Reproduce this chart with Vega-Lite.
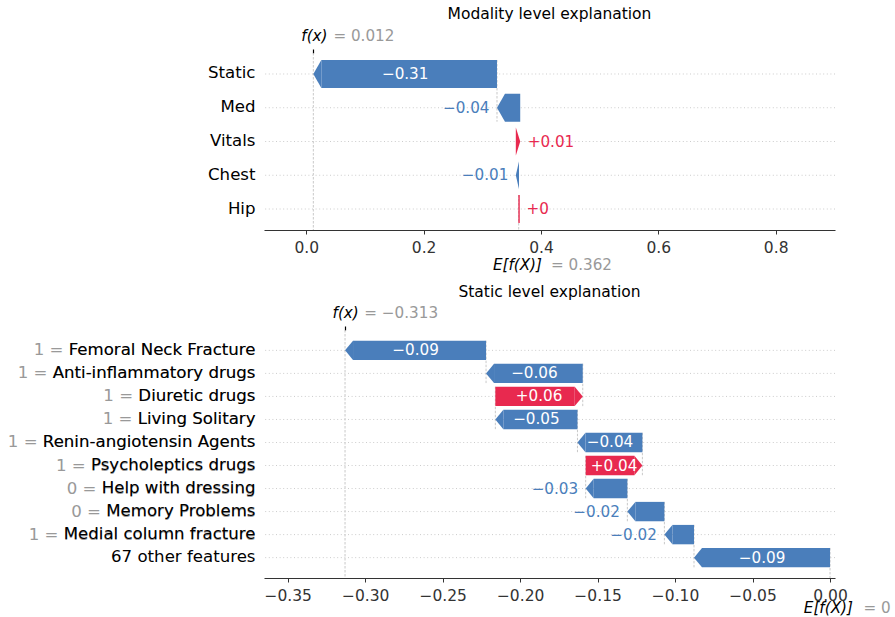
{
  "$schema": "https://vega.github.io/schema/vega-lite/v6.json",
  "background": "white",
  "padding": {"left": 7, "top": 7, "right": 5, "bottom": 5},
  "config": {
    "view": {"stroke": null},
    "font": "DejaVu Sans",
    "axis": {"labelFont": "DejaVu Sans"},
    "text": {"font": "DejaVu Sans"},
    "title": {"font": "DejaVu Sans"}
  },
  "datasets": {
    "modality": [
      {"name": "Static", "start": 0.325, "end": 0.012, "label": "−0.31"},
      {"name": "Med", "start": 0.3646, "end": 0.325, "label": "−0.04"},
      {"name": "Vitals", "start": 0.3571, "end": 0.3646, "label": "+0.01"},
      {"name": "Chest", "start": 0.3626, "end": 0.3571, "label": "−0.01"},
      {"name": "Hip", "start": 0.362, "end": 0.3626, "label": "+0"}
    ],
    "modality_ref": [{"name": "Hip", "fx": 0.012, "base": 0.362}],
    "static": [
      {"name": "Femoral Neck Fracture", "full": "1 = Femoral Neck Fracture", "start": -0.222, "end": -0.313, "label": "−0.09"},
      {"name": "Anti-inflammatory drugs", "full": "1 = Anti-inflammatory drugs", "start": -0.1596, "end": -0.222, "label": "−0.06"},
      {"name": "Diuretic drugs", "full": "1 = Diuretic drugs", "start": -0.216, "end": -0.1596, "label": "+0.06"},
      {"name": "Living Solitary", "full": "1 = Living Solitary", "start": -0.163, "end": -0.216, "label": "−0.05"},
      {"name": "Renin-angiotensin Agents", "full": "1 = Renin-angiotensin Agents", "start": -0.1211, "end": -0.163, "label": "−0.04"},
      {"name": "Psycholeptics drugs", "full": "1 = Psycholeptics drugs", "start": -0.1577, "end": -0.1211, "label": "+0.04"},
      {"name": "Help with dressing", "full": "0 = Help with dressing", "start": -0.1308, "end": -0.1577, "label": "−0.03"},
      {"name": "Memory Problems", "full": "0 = Memory Problems", "start": -0.1069, "end": -0.1308, "label": "−0.02"},
      {"name": "Medial column fracture", "full": "1 = Medial column fracture", "start": -0.0878, "end": -0.1069, "label": "−0.02"},
      {"name": "67 other features", "start": 0, "end": -0.0878, "label": "−0.09"}
    ],
    "static_ref": [{"name": "67 other features", "fx": -0.313, "base": 0}]
  },
  "bounds": "flush",
  "spacing": 100,
  "vconcat": [
    {
      "width": 571,
      "height": 177,
      "title": {"text": "Modality level explanation", "fontSize": 15.5, "fontWeight": "normal", "color": "#000000", "anchor": "middle", "frame": "group", "baseline": "alphabetic", "offset": -6},
      "data": {"name": "modality"},
      "resolve": {"scale": {"x": "independent"}},
      "layer": [
        {
          "data": {"name": "modality_ref"},
          "mark": {"type": "rule", "color": "#bbbbbb", "strokeWidth": 0.8, "strokeDash": [2.5, 1.5]},
          "encoding": {
            "x": {
              "field": "fx", "type": "quantitative", "title": null,
              "scale": {"domain": [-0.0721, 0.9011], "nice": false, "zero": false},
              "axis": {
                "orient": "top", "values": [0.012, 0.0121], "domain": false, "grid": false,
                "ticks": true, "tickSize": 4, "tickColor": "#000000", "tickWidth": 1.2,
                "tickOpacity": {"condition": {"test": "datum.value < 0.01205", "value": 1}, "value": 0},
                "labelExpr": "datum.value < 0.01205 ? 'f(x)' : '= 0.012'",
                "labelAlign": "left",
                "labelOffset": {"condition": {"test": "datum.value < 0.01205", "value": -12.5}, "value": 19.5},
                "labelColor": {"condition": {"test": "datum.value < 0.01205", "value": "#000000"}, "value": "#999999"},
                "labelFontStyle": {"condition": {"test": "datum.value < 0.01205", "value": "italic"}, "value": "normal"},
                "labelFontSize": 15.2, "labelPadding": 8.5, "labelBaseline": "alphabetic",
                "labelFlush": false, "labelOverlap": false, "labelBound": false, "title": null
              }
            }
          }
        },
        {
          "data": {"name": "modality_ref"},
          "mark": {"type": "rule", "color": "#bbbbbb", "strokeWidth": 0.8, "strokeDash": [2.5, 1.5], "yOffset": -14, "y2Offset": 21},
          "encoding": {
            "x": {
              "field": "base", "type": "quantitative", "title": null,
              "scale": {"domain": [-0.0721, 0.9011], "nice": false, "zero": false},
              "axis": {
                "orient": "bottom", "values": [0.362, 0.3621], "domain": false, "grid": false,
                "ticks": false, "tickSize": 0,
                "labelExpr": "datum.value < 0.36205 ? 'E[f(X)]' : '= 0.362'",
                "labelAlign": "left",
                "labelOffset": {"condition": {"test": "datum.value < 0.36205", "value": -26.3}, "value": 31.7},
                "labelColor": {"condition": {"test": "datum.value < 0.36205", "value": "#000000"}, "value": "#999999"},
                "labelFontStyle": {"condition": {"test": "datum.value < 0.36205", "value": "italic"}, "value": "normal"},
                "labelFontSize": 15.2, "labelPadding": 39, "labelBaseline": "alphabetic",
                "labelFlush": false, "labelOverlap": false, "labelBound": false, "title": null
              }
            },
            "y": {"field": "name", "type": "nominal", "title": null},
            "y2": {"field": "name"}
          }
        },
        {
          "encoding": {
            "y": {
              "field": "name", "type": "nominal", "title": null,
              "scale": {"domain": ["Static", "Med", "Vitals", "Chest", "Hip"], "paddingInner": 0.17, "paddingOuter": 0.207},
              "axis": {"domain": false, "ticks": false, "tickSize": 0, "grid": false, "labelPadding": 8.5, "labelFontSize": 16.6, "labelColor": "#000000", "labelLimit": 0, "zindex": 1, "translate": 0, "title": null}
            }
          },
          "layer": [
            {
              "mark": {"type": "rule", "color": "#cccccc", "strokeWidth": 1, "strokeDash": [1, 2.6]},
              "encoding": {}
            },
            {
              "transform": [{"filter": "datum.name === 'Static'"}],
              "mark": {"type": "rule", "color": "#bbbbbb", "strokeWidth": 0.8, "strokeDash": [2.5, 1.5], "yOffset": -14, "y2Offset": 47.75},
              "encoding": {
                "x": {
                  "field": "start", "type": "quantitative", "title": null,
                  "scale": {"domain": [-0.0721, 0.9011], "nice": false, "zero": false},
                  "axis": {"values": [0, 0.2, 0.4, 0.6, 0.8], "format": ".1f", "orient": "bottom", "grid": false, "domainColor": "#333333", "domainWidth": 1.2, "tickColor": "#333333", "tickWidth": 1, "tickSize": 4, "labelFontSize": 15.5, "labelColor": "#333333", "labelPadding": 18, "labelBaseline": "alphabetic", "labelFlush": false, "labelOverlap": false, "title": null}
                },
                "y2": {"field": "name"}
              }
            },
            {
              "transform": [{"filter": "datum.start - datum.end > 0.02"}],
              "mark": {"type": "bar", "color": "#4a7ebb", "x2Offset": 8},
              "encoding": {
                "x": {"field": "start", "type": "quantitative", "title": null},
                "x2": {"field": "end"}
              }
            },
            {
              "mark": {"type": "point", "filled": true, "size": 784, "opacity": 1},
              "encoding": {
                "x": {"field": "end", "type": "quantitative", "title": null},
                "shape": {
                  "field": "name", "type": "nominal", "legend": null,
                  "scale": {
                    "domain": ["Static", "Med", "Vitals", "Chest", "Hip"],
                    "range": ["M0,0L0.571,-1L0.571,1Z", "M0,0L0.571,-1L0.571,1Z", "M0,0L-0.314,-1L-0.314,1Z", "M0,0L0.229,-1L0.229,1Z", "M0.05,-1L-0.05,-1L-0.05,1L0.05,1Z"]
                  }
                },
                "color": {"condition": {"test": "datum.end < datum.start", "value": "#4a7ebb"}, "value": "#e8294f"}
              }
            },
            {
              "transform": [{"filter": "abs(datum.end - datum.start) > 0.1"}, {"fold": ["start", "end"], "as": ["k", "v"]}],
              "mark": {"type": "text", "color": "#ffffff", "fontSize": 15.2, "baseline": "middle", "align": "center"},
              "encoding": {
                "x": {"field": "v", "type": "quantitative", "aggregate": "mean", "title": null},
                "text": {"field": "label", "type": "nominal"}
              }
            },
            {
              "transform": [{"filter": "datum.end < datum.start && datum.start - datum.end <= 0.1"}],
              "mark": {"type": "text", "color": "#4a7ebb", "fontSize": 15.2, "baseline": "middle", "align": "right", "dx": -7.5},
              "encoding": {
                "x": {"field": "end", "type": "quantitative", "title": null},
                "text": {"field": "label", "type": "nominal"}
              }
            },
            {
              "transform": [{"filter": "datum.end > datum.start && datum.end - datum.start <= 0.1"}],
              "mark": {"type": "text", "color": "#e8294f", "fontSize": 15.2, "baseline": "middle", "align": "left", "dx": 7.5},
              "encoding": {
                "x": {"field": "end", "type": "quantitative", "title": null},
                "text": {"field": "label", "type": "nominal"}
              }
            }
          ]
        }
      ]
    },
    {
      "width": 571,
      "height": 248,
      "title": {"text": "Static level explanation", "fontSize": 15.5, "fontWeight": "normal", "color": "#000000", "anchor": "middle", "frame": "group", "baseline": "alphabetic", "offset": -7},
      "data": {"name": "static"},
      "resolve": {"scale": {"x": "independent"}},
      "layer": [
        {
          "data": {"name": "static_ref"},
          "mark": {"type": "rule", "color": "#bbbbbb", "strokeWidth": 0.8, "strokeDash": [2.5, 1.5]},
          "encoding": {
            "x": {
              "field": "fx", "type": "quantitative", "title": null,
              "scale": {"domain": [-0.3653, 0.0032], "nice": false, "zero": false},
              "axis": {
                "orient": "top", "values": [-0.313, -0.3129], "domain": false, "grid": false,
                "ticks": true, "tickSize": 4, "tickColor": "#000000", "tickWidth": 1.2,
                "tickOpacity": {"condition": {"test": "datum.value < -0.31295", "value": 1}, "value": 0},
                "labelExpr": "datum.value < -0.31295 ? 'f(x)' : '= −0.313'",
                "labelAlign": "left",
                "labelOffset": {"condition": {"test": "datum.value < -0.31295", "value": -13}, "value": 18.6},
                "labelColor": {"condition": {"test": "datum.value < -0.31295", "value": "#000000"}, "value": "#999999"},
                "labelFontStyle": {"condition": {"test": "datum.value < -0.31295", "value": "italic"}, "value": "normal"},
                "labelFontSize": 15.2, "labelPadding": 8.5, "labelBaseline": "alphabetic",
                "labelFlush": false, "labelOverlap": false, "labelBound": false, "title": null
              }
            }
          }
        },
        {
          "data": {"name": "static_ref"},
          "mark": {"type": "rule", "color": "#bbbbbb", "strokeWidth": 0.8, "strokeDash": [2.5, 1.5], "yOffset": -9.7, "y2Offset": 20.4},
          "encoding": {
            "x": {
              "field": "base", "type": "quantitative", "title": null,
              "scale": {"domain": [-0.3653, 0.0032], "nice": false, "zero": false},
              "axis": {
                "orient": "bottom", "values": [0, 0.0001], "domain": false, "grid": false,
                "ticks": false, "tickSize": 0,
                "labelExpr": "datum.value < 0.00005 ? 'E[f(X)]' : '= 0'",
                "labelAlign": "left",
                "labelOffset": {"condition": {"test": "datum.value < 0.00005", "value": -26.7}, "value": 32.7},
                "labelColor": {"condition": {"test": "datum.value < 0.00005", "value": "#000000"}, "value": "#999999"},
                "labelFontStyle": {"condition": {"test": "datum.value < 0.00005", "value": "italic"}, "value": "normal"},
                "labelFontSize": 15.2, "labelPadding": 34, "labelBaseline": "alphabetic",
                "labelFlush": false, "labelOverlap": false, "labelBound": false, "title": null
              }
            },
            "y": {"field": "name", "type": "nominal", "title": null},
            "y2": {"field": "name"}
          }
        },
        {
          "encoding": {
            "y": {
              "field": "name", "type": "nominal", "title": null,
              "scale": {
                "domain": ["Femoral Neck Fracture", "Anti-inflammatory drugs", "Diuretic drugs", "Living Solitary", "Renin-angiotensin Agents", "Psycholeptics drugs", "Help with dressing", "Memory Problems", "Medial column fracture", "67 other features"],
                "paddingInner": 0.158, "paddingOuter": 0.463
              },
              "axis": {"domain": false, "ticks": false, "tickSize": 0, "grid": false, "labelPadding": 8.5, "labelFontSize": 16.6, "labelColor": "#000000", "labelLimit": 0, "zindex": 1, "translate": 0, "title": null}
            }
          },
          "layer": [
            {
              "mark": {"type": "rule", "color": "#cccccc", "strokeWidth": 1, "strokeDash": [1, 2.6]},
              "encoding": {}
            },
            {
              "transform": [{"filter": "isValid(datum.full)"}],
              "mark": {"type": "text", "align": "right", "baseline": "middle", "dx": -8.5, "fontSize": 16.6, "color": "#999999"},
              "encoding": {
                "x": {"datum": -0.3653, "type": "quantitative"},
                "text": {"field": "full", "type": "nominal"}
              }
            },
            {
              "transform": [{"filter": "datum.name !== '67 other features'"}],
              "mark": {"type": "rule", "color": "#bbbbbb", "strokeWidth": 0.8, "strokeDash": [2.5, 1.5], "yOffset": -9.7, "y2Offset": 32.73},
              "encoding": {
                "x": {
                  "field": "start", "type": "quantitative", "title": null,
                  "scale": {"domain": [-0.3653, 0.0032], "nice": false, "zero": false},
                  "axis": {"values": [-0.35, -0.3, -0.25, -0.2, -0.15, -0.1, -0.05, 0], "format": ".2f", "orient": "bottom", "grid": false, "domainColor": "#333333", "domainWidth": 1.2, "tickColor": "#333333", "tickWidth": 1, "tickSize": 4, "labelFontSize": 15.5, "labelColor": "#333333", "labelPadding": 18.5, "labelBaseline": "alphabetic", "labelFlush": false, "labelOverlap": false, "title": null}
                },
                "y2": {"field": "name"}
              }
            },
            {
              "transform": [{"filter": "datum.start - datum.end > 0.01"}],
              "mark": {"type": "bar", "color": "#4a7ebb", "x2Offset": 8},
              "encoding": {
                "x": {"field": "start", "type": "quantitative", "title": null},
                "x2": {"field": "end"}
              }
            },
            {
              "transform": [{"filter": "datum.end - datum.start > 0.01"}],
              "mark": {"type": "bar", "color": "#e8294f", "x2Offset": -8},
              "encoding": {
                "x": {"field": "start", "type": "quantitative", "title": null},
                "x2": {"field": "end"}
              }
            },
            {
              "mark": {"type": "point", "filled": true, "size": 376, "opacity": 1},
              "encoding": {
                "x": {"field": "end", "type": "quantitative", "title": null},
                "shape": {"condition": {"test": "datum.end < datum.start", "value": "M0,0L0.825,-1L0.825,1Z"}, "value": "M0,0L-0.825,-1L-0.825,1Z"},
                "color": {"condition": {"test": "datum.end < datum.start", "value": "#4a7ebb"}, "value": "#e8294f"}
              }
            },
            {
              "transform": [{"filter": "abs(datum.end - datum.start) > 0.03"}, {"fold": ["start", "end"], "as": ["k", "v"]}],
              "mark": {"type": "text", "color": "#ffffff", "fontSize": 15.2, "baseline": "middle", "align": "center"},
              "encoding": {
                "x": {"field": "v", "type": "quantitative", "aggregate": "mean", "title": null},
                "text": {"field": "label", "type": "nominal"}
              }
            },
            {
              "transform": [{"filter": "datum.end < datum.start && datum.start - datum.end <= 0.03"}],
              "mark": {"type": "text", "color": "#4a7ebb", "fontSize": 15.2, "baseline": "middle", "align": "right", "dx": -7.5},
              "encoding": {
                "x": {"field": "end", "type": "quantitative", "title": null},
                "text": {"field": "label", "type": "nominal"}
              }
            }
          ]
        }
      ]
    }
  ]
}
